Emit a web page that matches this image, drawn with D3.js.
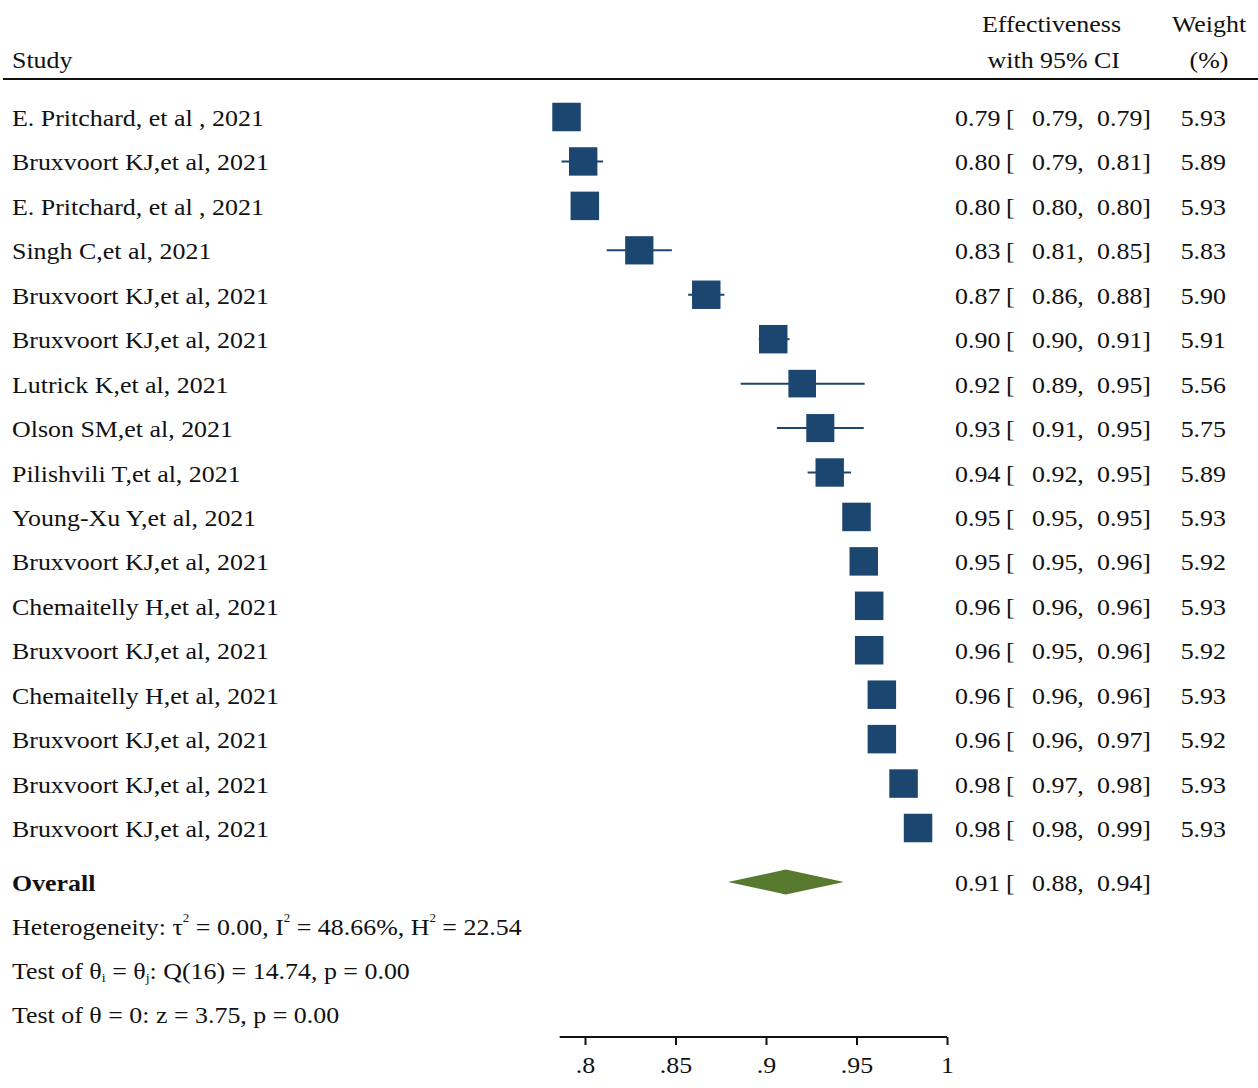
<!DOCTYPE html>
<html>
<head>
<meta charset="utf-8">
<script src="https://cdn.jsdelivr.net/npm/d3@7"></script>
<style>
  html, body { margin: 0; padding: 0; background: #fff; }
  svg { display: block; }
  text { font-family: "Liberation Serif", "Times New Roman", serif; font-size: 24px; fill: #111; }
</style>
</head>
<body>
<svg id="chart" width="1258" height="1088"></svg>
<script>
// Study rows of the forest plot
const studies = [
  "E. Pritchard, et al , 2021",
  "Bruxvoort KJ,et al, 2021",
  "E. Pritchard, et al , 2021",
  "Singh C,et al, 2021",
  "Bruxvoort KJ,et al, 2021",
  "Bruxvoort KJ,et al, 2021",
  "Lutrick K,et al, 2021",
  "Olson SM,et al, 2021",
  "Pilishvili T,et al, 2021",
  "Young-Xu Y,et al, 2021",
  "Bruxvoort KJ,et al, 2021",
  "Chemaitelly H,et al, 2021",
  "Bruxvoort KJ,et al, 2021",
  "Chemaitelly H,et al, 2021",
  "Bruxvoort KJ,et al, 2021",
  "Bruxvoort KJ,et al, 2021",
  "Bruxvoort KJ,et al, 2021"
];
const estimates = [0.7898, 0.799, 0.7999, 0.830, 0.867, 0.904, 0.920, 0.930, 0.9352, 0.950, 0.954, 0.957, 0.957, 0.964, 0.964, 0.976, 0.984];
const ciLower   = [0.7896, 0.787, 0.7995, 0.812, 0.857, 0.896, 0.886, 0.906, 0.923, 0.948, 0.951, 0.956, 0.953, 0.963, 0.958, 0.973, 0.979];
const ciUpper   = [0.7900, 0.810, 0.8003, 0.848, 0.877, 0.913, 0.9545, 0.954, 0.947, 0.952, 0.958, 0.959, 0.961, 0.9649, 0.970, 0.979, 0.989];
const weights   = [5.93, 5.89, 5.93, 5.83, 5.90, 5.91, 5.56, 5.75, 5.89, 5.93, 5.92, 5.93, 5.92, 5.93, 5.92, 5.93, 5.93];

// Pooled estimate
const overall = { est: 0.911, lo: 0.879, hi: 0.943 };

// Axis ticks
const tickValues = [0.8, 0.85, 0.9, 0.95, 1];
const tickLabels = [".8", ".85", ".9", ".95", "1"];
const axisStart = 0.786;

const boxColor = "#1b4670";
const diamondColor = "#587a2f";
const SX = 1.08; // horizontal stretch of the serif lettering

const svg = d3.select("#chart");
const fmt = d3.format(".2f");

const x = d3.scaleLinear().domain([0.8, 1]).range([585, 947]);
const yRow = d3.scaleLinear().domain([0, studies.length - 1]).range([117, 828]);
const boxSide = d3.scaleSqrt().domain([0, 5.93]).range([0, 28.5]);

const rows = studies.map((name, i) => ({
  name, est: estimates[i], lo: ciLower[i], hi: ciUpper[i], w: weights[i], i
}));

function txt(parent, px, py, str, anchor) {
  const t = parent.append("text")
    .attr("transform", `translate(${px},${py}) scale(${SX},1)`)
    .attr("text-anchor", anchor || "start");
  if (str != null) t.text(str);
  return t;
}

// Header
txt(svg, 12, 68, "Study");
txt(svg, 1121, 32, "Effectiveness", "end");
txt(svg, 1120, 68, "with 95% CI", "end");
txt(svg, 1209, 32, "Weight", "middle");
txt(svg, 1209, 68, "(%)", "middle");
svg.append("line").attr("x1", 3).attr("x2", 1258).attr("y1", 79).attr("y2", 79)
  .attr("stroke", "#111").attr("stroke-width", 2);

// Study rows
const row = svg.append("g").selectAll("g.row").data(rows).join("g").attr("class", "row");

row.append("line")
  .attr("x1", d => x(d.lo)).attr("x2", d => x(d.hi))
  .attr("y1", d => yRow(d.i)).attr("y2", d => yRow(d.i))
  .attr("stroke", boxColor).attr("stroke-width", 2);

row.append("rect")
  .attr("x", d => x(d.est) - boxSide(d.w) / 2)
  .attr("y", d => yRow(d.i) - boxSide(d.w) / 2)
  .attr("width", d => boxSide(d.w)).attr("height", d => boxSide(d.w))
  .attr("fill", boxColor);

function ciText(sel, y, d) {
  txt(sel, 955, y, fmt(d.est));
  txt(sel, 1006, y, "[");
  txt(sel, 1032, y, fmt(d.lo) + ",");
  txt(sel, 1097, y, fmt(d.hi) + "]");
}
row.each(function(d) {
  const s = d3.select(this);
  const y = yRow(d.i) + 9;
  txt(s, 12, y, d.name);
  ciText(s, y, d);
  txt(s, 1226, y, fmt(d.w), "end");
});

// Overall
const yOverall = yRow(studies.length - 1) + 54;
txt(svg, 12, yOverall + 9, "Overall").attr("font-weight", "bold");
svg.append("path")
  .attr("d", d3.line()([
    [x(overall.lo), yOverall],
    [x(overall.est), yOverall - 12.5],
    [x(overall.hi), yOverall],
    [x(overall.est), yOverall + 12.5]
  ]) + "Z")
  .attr("fill", diamondColor);
ciText(svg.append("g"), yOverall + 9, overall);

// Heterogeneity statistics
const het = txt(svg, 12, 935);
het.append("tspan").text("Heterogeneity: \u03c4");
het.append("tspan").attr("font-size", 12).attr("dy", -13).text("2");
het.append("tspan").attr("dy", 13).text(" = 0.00, I");
het.append("tspan").attr("font-size", 12).attr("dy", -13).text("2");
het.append("tspan").attr("dy", 13).text(" = 48.66%, H");
het.append("tspan").attr("font-size", 12).attr("dy", -13).text("2");
het.append("tspan").attr("dy", 13).text(" = 22.54");

const t1 = txt(svg, 12, 979);
t1.append("tspan").text("Test of \u03b8");
t1.append("tspan").attr("font-size", 13).attr("dy", 3).text("i");
t1.append("tspan").attr("dy", -3).text(" = \u03b8");
t1.append("tspan").attr("font-size", 13).attr("dy", 3).text("j");
t1.append("tspan").attr("dy", -3).text(": Q(16) = 14.74, p = 0.00");

txt(svg, 12, 1023, "Test of \u03b8 = 0: z = 3.75, p = 0.00");

// X axis
const axisG = svg.append("g").attr("transform", "translate(0,1037)");
axisG.call(d3.axisBottom(x).tickValues(tickValues).tickSize(8).tickSizeOuter(0)
  .tickFormat((d, i) => tickLabels[i]));
axisG.select(".domain").attr("d", `M${x(axisStart)},0H${x(1)}`).attr("stroke", "#111").attr("stroke-width", 2);
axisG.selectAll(".tick line").attr("stroke", "#111").attr("stroke-width", 2);
axisG.selectAll(".tick text")
  .attr("font-family", "Liberation Serif, Times New Roman, serif")
  .attr("font-size", 24).attr("fill", "#111").attr("dy", 0).attr("y", 0)
  .attr("transform", `translate(0,36) scale(${SX},1)`);
</script>
</body>
</html>
